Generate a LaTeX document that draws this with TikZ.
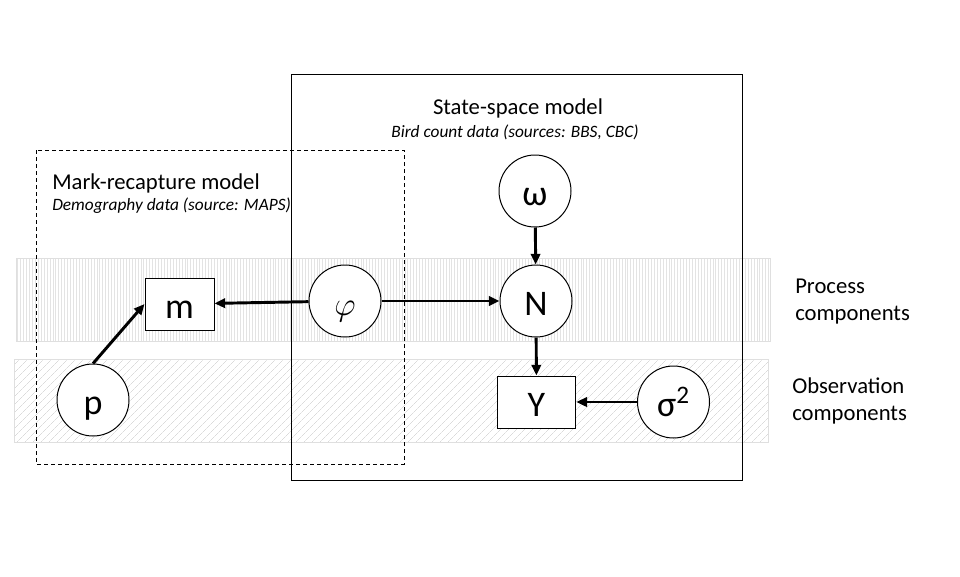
\documentclass[tikz,border=0pt]{standalone}
\usepackage{fontspec}
\setmainfont{Carlito}
\usetikzlibrary{patterns.meta,arrows.meta}
\begin{document}
\begin{tikzpicture}[x=0.75pt,y=-0.75pt,
  band/.style={draw=gray!25, line width=0.75pt},
  var/.style={circle, draw, line width=0.75pt, fill=white, minimum size=54pt, inner sep=0pt, text height=21pt, text depth=0pt, font=\fontsize{27}{32}\selectfont},
  datum/.style={rectangle, draw, line width=0.75pt, fill=white, minimum height=39pt, inner sep=0pt, text height=21pt, text depth=0pt, font=\fontsize{27}{32}\selectfont},
  edge/.style={line width=2.2pt, -{Triangle[length=8pt,width=7pt]}},
  title/.style={font=\fontsize{17}{20}\selectfont, anchor=base, inner sep=0pt},
  sub/.style={font=\fontsize{13}{16}\selectfont\itshape, anchor=base, inner sep=0pt},
  side/.style={font=\fontsize{17}{20.25}\selectfont, anchor=base west, align=left, inner sep=0pt}
]
\useasboundingbox (0,0) rectangle (960,576);
% bands
\path[band, pattern={Lines[angle=90,distance=2.2pt,line width=0.4pt]}, pattern color=gray!22] (16,258) rectangle (770,341);
\path[band, pattern={Lines[angle=45,distance=4pt,line width=0.45pt]}, pattern color=gray!28] (14,359) rectangle (768,442);
% model boxes
\draw[line width=0.75pt] (291,74) rectangle (742,480);
\draw[line width=0.75pt, dash pattern=on 3pt off 2.25pt] (36,150) rectangle (404,464);
% labels
\node[title] (sst) at (518,114) {State-space model};
\node[sub] (sss) at (515,137) {Bird count data (sources: BBS, CBC)};
\node[title, anchor=base west] (mrt) at (52,189) {Mark-recapture model};
\node[sub, anchor=base west] (mrs) at (52,210) {Demography data (source: MAPS)};
\node[side] (proc) at (795,320) {Process\\components};
\node[side] (obs) at (792,420) {Observation\\components};
% variables
\node[var] (omega) at (535,191) {ω};
\node[var] (N) at (536,301) {N};
\node[var, font=\fontsize{32}{36}\selectfont] (phi) at (345,301) {$\varphi$};
\node[datum, minimum width=51.75pt] (m) at (179.5,304) {m};
\node[var] (p) at (93,400) {p};
\node[datum, minimum width=59pt] (Y) at (536.5,402) {Y};
\node[var] (s2) at (673.5,402) {σ\textsuperscript{2}};
% edges
\draw[edge] (omega) -- (N);
\draw[edge] (N) -- (Y);
\draw[edge] (s2) -- (Y);
\draw[edge] (phi) -- (N);
\draw[edge] (phi) -- (m);
\draw[edge] (p.north) -- (m.west);
\end{tikzpicture}
\end{document}
